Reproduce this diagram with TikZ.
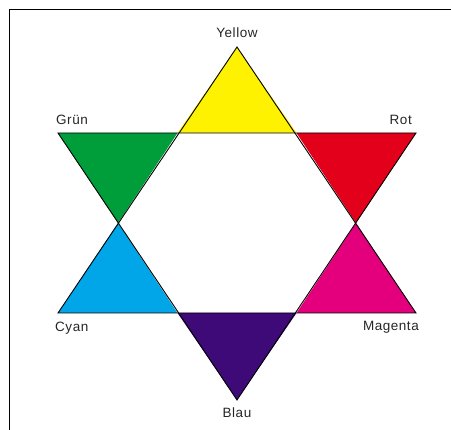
\documentclass[tikz,border=0pt]{standalone}
\usepackage{fontspec}
\setmainfont{Liberation Sans}[LetterSpace=4]
\definecolor{cyel}{RGB}{255,242,0}
\definecolor{cgrn}{RGB}{0,158,58}
\definecolor{cred}{RGB}{226,0,26}
\definecolor{cmag}{RGB}{228,0,124}
\definecolor{ccya}{RGB}{0,166,231}
\definecolor{cblu}{RGB}{62,10,120}
\begin{document}
\begin{tikzpicture}[x=1pt,y=-1pt,
  tri/.style={draw=black,line width=0.9pt,line join=miter},
  lbl/.style={font=\fontsize{13.5}{15}\selectfont,text=black!85,inner sep=0pt},
  frame/.style={line width=1pt}]
\useasboundingbox (0,0) rectangle (451,430);
% frame
\coordinate (fr) at (451,10);
\coordinate (fc) at (9,10);
\coordinate (fb) at (9,430);
\draw[frame] (fr) -- (fc) -- (fb);
% vertices
\coordinate (T) at (237,47);
\coordinate (A1) at (58,133);
\coordinate (A2) at (177.5,133);
\coordinate (A3) at (296.5,133);
\coordinate (A4) at (416,133);
\coordinate (M1) at (118,223);
\coordinate (M2) at (356,223);
\coordinate (B1) at (58,313);
\coordinate (B2) at (177.5,313);
\coordinate (B3) at (296.5,313);
\coordinate (B4) at (416,313);
\coordinate (Bt) at (237,400);
% triangles
\fill[cyel] (T) -- (A2) -- (A3) -- cycle;
\fill[cgrn] (A1) -- (A2) -- (M1) -- cycle;
\fill[cred] (A3) -- (A4) -- (M2) -- cycle;
\fill[ccya] (M1) -- (B1) -- (B2) -- cycle;
\fill[cmag] (M2) -- (B3) -- (B4) -- cycle;
\fill[cblu] (B2) -- (B3) -- (Bt) -- cycle;
\draw[tri] (T) -- (B1) -- (B4) -- cycle;
\draw[tri] (Bt) -- (A1) -- (A4) -- cycle;
% labels
\node[lbl] (ly) at (237,33) {Yellow};
\node[lbl,anchor=west] (lg) at (56,120) {Grün};
\node[lbl,anchor=east] (lr) at (412,120) {Rot};
\node[lbl,anchor=west] (lc) at (55,328) {Cyan};
\node[lbl,anchor=east] (lm) at (419,327) {Magenta};
\node[lbl] (lb) at (237,413) {Blau};
\end{tikzpicture}
\end{document}
